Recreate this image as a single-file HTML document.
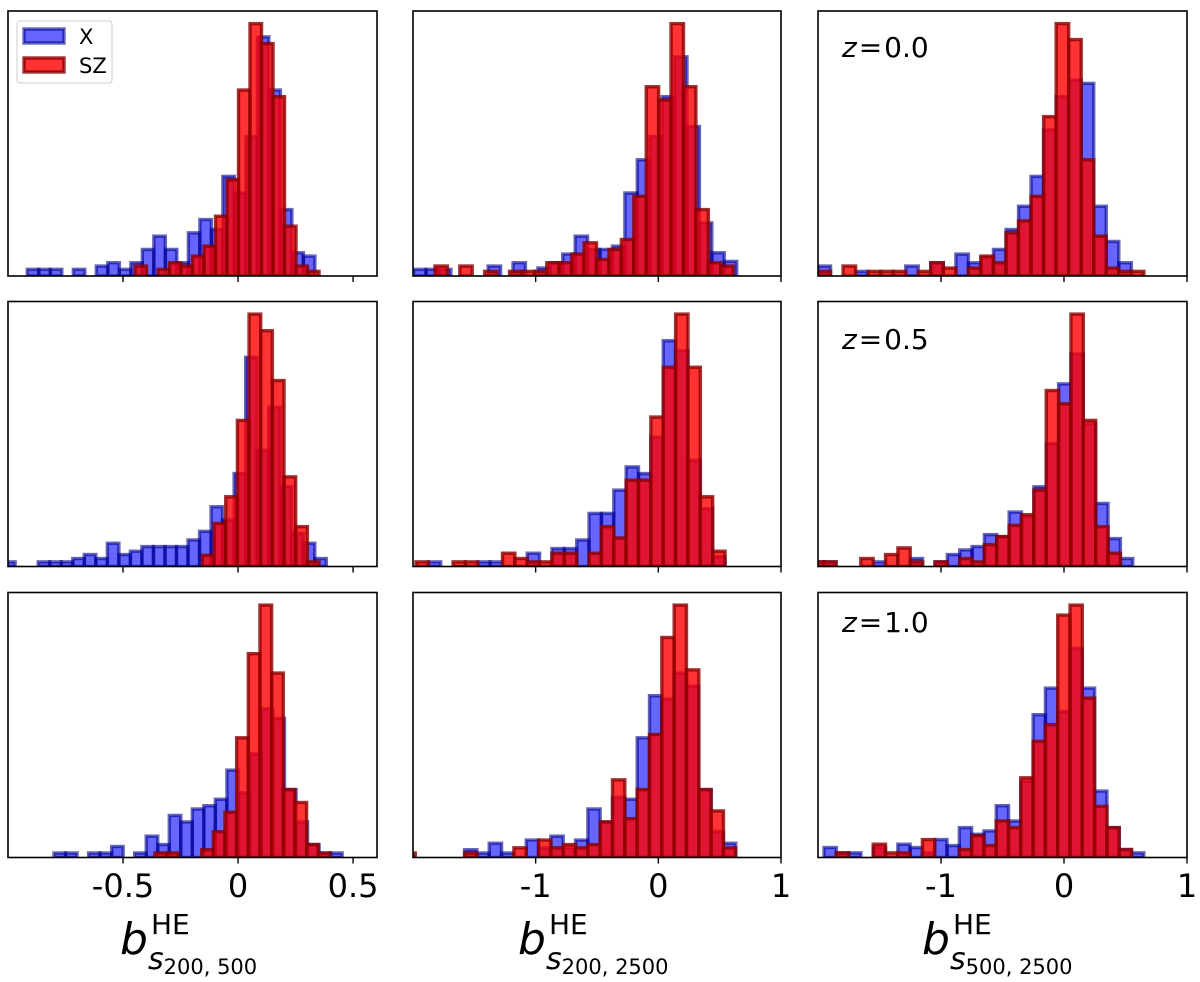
<!DOCTYPE html>
<html><head><meta charset="utf-8">
<style>
html,body{margin:0;padding:0;background:#fff;}
svg{display:block;font-family:"DejaVu Sans","Liberation Sans",sans-serif;}
</style></head>
<body>
<svg id="fig" width="1200" height="982" viewBox="0 0 1200 982" xmlns="http://www.w3.org/2000/svg"></svg>
<script>
// ---- data: bin start, bin width (data units) and counts per panel ----
const binStartBlue = [-0.916,-1.995,-2.0, -1.019,-1.976,-2.054, -0.80,-2.082,-1.951];
const binWidthBlue = [0.05,0.1013,0.1019, 0.0501,0.1008,0.1005, 0.0501,0.1005,0.1];
const binStartRed  = [-0.448,-1.821,-2.0, -0.155,-1.976,-2.054, -0.361,-2.082,-1.951];
const binWidthRed  = [0.05,0.1013,0.1019, 0.0507,0.1008,0.1005, 0.0507,0.1005,0.1];

const blue1 = [1,1,1,0,1,0,1.5,2,1,2,4,6,4,2,6.5,8.5,7,15,12.5,21,36,28,10,3.5,3];
const red1  = [1.5,0,1,2,1.5,3,4.5,9,14.5,28,38,35,27,7.5,1.5,0.7];
const blue2 = [1,1,1,0,0,0,1.5,0,2,0,1.2,2,3.3,6,4,4,4.5,12.5,17.5,21,27,33,22.5,8,3.5,2.2];
const red2  = [1.5,0,1.5,0,0.7,0,0.7,0.7,0.7,2,2,3.3,5,2.5,4,5.5,12,28.5,26.5,38,28.5,10,2,1.5];
const blue3 = [1.5,0,0,0.7,0,0,0,1.5,0,2,0,3.3,2,2.8,4,7,10.5,15,22,27,29.5,29,10.5,5.2,2];
const red3  = [0.7,0,1.5,0,0.7,0.7,0.7,0,0.7,2,1.2,0,1.2,3,2,6.5,8.3,12,24,38,35.6,17.5,6,1.2,0.7,0.7];
const blue4 = [0.7,0,0,0.7,0.7,0.7,1.2,1.8,1.2,3.5,1.8,2.3,3,3,3,3,4,5.3,9,7,14,31.5,17.5,24,12,5,3.5,1.2];
const red4  = [1.7,6.5,10.5,22,38,35.5,28,13.5,6,0.7];
const blue5 = [0,0.7,0,0,0,0.7,0.7,0,0,2,0,2.7,2.7,4,8,8,11.5,15,14,19.5,34,32.5,16,8.7,1.5];
const red5  = [0.7,0,0,0.7,0.7,0,0,2,1.2,0.7,0.7,2,2,0,2,6,4.3,13,13,22.5,30,38,30,10.5,2.3];
const blue6 = [0.7,0.7,0,0,0,0.7,0,0,1.2,0,0.7,1.8,2.5,3,4.8,4.5,8.2,7.5,12,18.5,27.5,32,21.5,9.5,4.2,1.2];
const red6  = [0.7,0.7,0,0,1.2,0,1.8,2.8,0.7,0,0.7,0,1.2,0.7,3.3,4.5,6.2,7.8,11.5,26.5,24.5,38,22,6,2];
const blue7 = [0.7,0.7,0,0.7,0.7,1.7,0,0.7,3.3,2,6.5,5.5,7.5,8,9,13.5,10,16,23,21.5,10.5,5.5,2,0.7,0.7];
const red7  = [0.7,0.7,0,0,1.2,4,7,18.5,31.5,39,28.5,10.5,8.5,2,0.7];
const blue8 = [0,0,0,0,0,1.2,0.7,2.2,0.7,0,2.7,1.5,3.3,1.5,2.7,7.5,5.5,9.3,9,18.5,25,24.5,28.5,26.5,10.5,4,2.2];
const red8  = [0.7,0,0,0,0,0.7,0,0,0,1.5,0,2.7,1.5,2,1.5,2,5.5,12,6,10.5,19,34,39,29,10.5,7.2,1.5];
const blue9 = [1.5,0.7,0.7,0,1.5,0,2,1.5,0.7,2.7,1.8,4.5,3.5,4,7.8,5.5,11.5,21.5,25.5,22,31.5,25.5,10,4.5,1.2,0.7];
const red9  = [0,0.7,0,0,2,0.7,0.7,0,2.7,0,0,1.2,3.3,1.8,5.5,4.5,12,17.5,20,36.5,38,24,7.7,4.5,1.2];

const blueSeries = [blue1,blue2,blue3,blue4,blue5,blue6,blue7,blue8,blue9];
const redSeries  = [red1,red2,red3,red4,red5,red6,red7,red8,red9];

const colDomains = [[-1.0,0.604],[-2.0,1.0],[-2.0,1.0]];
const colTicks = [[-0.5,0,0.5],[-1,0,1],[-1,0,1]];
const colTickLabels = [["-0.5","0","0.5"],["-1","0","1"],["-1","0","1"]];
const zValues = ["0.0","0.5","1.0"];
const axisSubs = ["200, 500","200, 2500","500, 2500"];

// ---- layout ----
const colX = [[8,377],[413,781],[818,1187]];
const rowY = [[11,276],[301.5,566.5],[592.5,857.5]];
const NS = "http://www.w3.org/2000/svg";
const svg = document.getElementById('fig');
function mk(tag, attrs, parent){
  const e = document.createElementNS(NS, tag);
  for (const k in attrs) e.setAttribute(k, attrs[k]);
  (parent||svg).appendChild(e);
  return e;
}
const defs = mk('defs',{});

for (let r=0;r<3;r++){
  for (let c=0;c<3;c++){
    const idx = r*3+c;
    const [x0,x1] = colX[c], [y0,y1] = rowY[r];
    const [d0,d1] = colDomains[c];
    const xs = v => x0 + (v-d0)/(d1-d0)*(x1-x0);
    const maxC = Math.max(...blueSeries[idx], ...redSeries[idx]);
    const ys = v => y1 - v/(maxC*1.05)*(y1-y0);
    const g = mk('g',{});
    
    
    const cp = mk('clipPath',{id:'clip'+idx}, defs);
    mk('rect',{x:x0,y:y0,width:x1-x0,height:y1-y0}, cp);
    const bars = mk('g',{'clip-path':'url(#clip'+idx+')'}, g);
    const series = [
      {vals: blueSeries[idx], s: binStartBlue[idx], w: binWidthBlue[idx], fill:'rgba(0,0,255,0.6)', stroke:'rgba(0,0,139,0.6)', name:'x'},
      {vals: redSeries[idx], s: binStartRed[idx], w: binWidthRed[idx], fill:'rgba(255,0,0,0.8)', stroke:'rgba(139,0,0,0.8)', name:'sz'}
    ];
    series.forEach(se=>{
      se.vals.forEach((v,i)=>{
        if (v<=0) return;
        const a = xs(se.s + i*se.w), b = xs(se.s + (i+1)*se.w);
        const rect = mk('rect',{x:a, y:ys(v), width:b-a, height:y1-ys(v), fill:se.fill, stroke:se.stroke, 'stroke-width':3.4}, bars);
        
        
      });
    });
    const frame = mk('rect',{x:x0,y:y0,width:x1-x0,height:y1-y0,fill:'none',stroke:'#000','stroke-width':1.6}, g);
    
    
    colTicks[c].forEach((t,k)=>{
      const tx = xs(t);
      const tk = mk('line',{x1:tx,x2:tx,y1:y1,y2:y1+6,stroke:'#000','stroke-width':1.4}, g);
      
      
      if (r===2){
        const tl = mk('text',{x:tx,y:897,'text-anchor':'middle','font-size':32,fill:'#000'}, g);
        tl.textContent = colTickLabels[c][k];
        
        
      }
    });
    if (c===2){
      const zl = mk('text',{x:842,y:[57,349,632][r],'font-size':28,fill:'#000'}, g);
      zl.innerHTML = '<tspan font-style="italic">z</tspan><tspan dx="2">=</tspan><tspan dx="2">' + zValues[r] + '</tspan>';
      
      
    }
  }
}

// axis titles
const bx = [120,518,922];
for (let c=0;c<3;c++){
  const t = mk('text',{x:bx[c],y:954,fill:'#000'});
  t.innerHTML = '<tspan font-size="44" font-style="italic">b</tspan>'
    + '<tspan font-size="28" dx="3" dy="-20">HE</tspan>';
  
  
  const s = mk('text',{x:bx[c]+28,y:969,fill:'#000'});
  s.innerHTML = '<tspan font-size="30" font-style="italic">s</tspan><tspan font-size="21" dy="5">'+axisSubs[c]+'</tspan>';
  
  
}

// legend
const lg = mk('g',{});


mk('rect',{x:17,y:21,width:95,height:62,rx:3,fill:'rgba(255,255,255,0.8)',stroke:'#ccc','stroke-width':1}, lg);
const lb = mk('rect',{x:24,y:29,width:40,height:14,fill:'rgba(0,0,255,0.6)',stroke:'rgba(0,0,139,0.6)','stroke-width':3.4}, lg);


const lr = mk('rect',{x:24,y:58,width:40,height:14,fill:'rgba(255,0,0,0.8)',stroke:'rgba(139,0,0,0.8)','stroke-width':3.4}, lg);


const t1 = mk('text',{x:79,y:44,'font-size':21,fill:'#000'}, lg); t1.textContent='X';


const t2 = mk('text',{x:79,y:73,'font-size':21,fill:'#000'}, lg); t2.textContent='SZ';


</script>
</body></html>
